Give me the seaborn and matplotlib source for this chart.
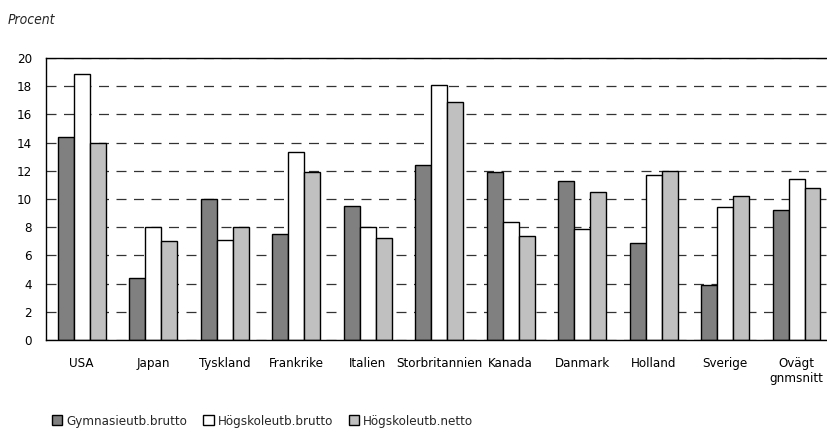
import matplotlib
matplotlib.use("Agg")
import matplotlib.pyplot as plt
import seaborn as sns
import pandas as pd

countries = ["USA", "Japan", "Tyskland", "Frankrike", "Italien", "Storbritannien",
             "Kanada", "Danmark", "Holland", "Sverige", "Ovägt\ngnmsnitt"]
series = ["Gymnasieutb.brutto", "Högskoleutb.brutto", "Högskoleutb.netto"]
gymn_brutto = [14.4, 4.4, 10.0, 7.5, 9.5, 12.4, 11.9, 11.3, 6.9, 3.9, 9.2]
hogsk_brutto = [18.9, 8.0, 7.1, 13.3, 8.0, 18.1, 8.4, 7.9, 11.7, 9.4, 11.4]
hogsk_netto = [14.0, 7.0, 8.0, 11.9, 7.2, 16.9, 7.4, 10.5, 12.0, 10.2, 10.8]
colors = ["#808080", "#ffffff", "#c0c0c0"]

rows = []
for s, vals in zip(series, [gymn_brutto, hogsk_brutto, hogsk_netto]):
    for c, v in zip(countries, vals):
        rows.append({"Land": c, "Serie": s, "Procent": v})
df = pd.DataFrame(rows)

sns.set_theme(style="white")
plt.rcParams["font.family"] = ["DejaVu Sans"]
plt.rcParams["font.stretch"] = "condensed"

fig = plt.figure(figsize=(8.28, 4.32), dpi=100)
ax = fig.add_axes([46 / 828, 92 / 432, 1 - 46 / 828, 282 / 432])

sns.barplot(data=df, x="Land", y="Procent", hue="Serie", hue_order=series,
            order=countries, palette=colors, width=0.67, edgecolor="black",
            linewidth=1.0, saturation=1, ax=ax, legend=True)

ax.set_ylim(0, 20)
ax.set_xlim(-0.5, 10.44)
ax.set_yticks(range(0, 21, 2))
ax.yaxis.grid(True, color="#333333", linestyle=(0, (8, 6)), linewidth=0.9)
ax.set_axisbelow(True)
ax.set_xlabel("")
ax.set_ylabel("")
for side in ["top", "left", "bottom"]:
    ax.spines[side].set_visible(True)
    ax.spines[side].set_color("black")
    ax.spines[side].set_linewidth(1.0)
ax.spines["right"].set_visible(False)
ax.tick_params(axis="both", length=0, labelsize=9.5, colors="black")
ax.tick_params(axis="x", pad=12)
ax.tick_params(axis="y", pad=10)
ax.get_xticklabels()[-1].set_horizontalalignment("center")

fig.text(8 / 828, 1 - 20 / 432, "Procent", fontsize=10, style="italic", va="center")

handles, labels = ax.get_legend_handles_labels()
ax.legend_.remove()
fig.legend(handles, labels, loc="lower left", bbox_to_anchor=(40 / 828, -0.018),
           ncol=3, frameon=False, fontsize=9.5, handlelength=0.8, handleheight=0.8,
           handletextpad=0.3, columnspacing=1.2)

fig.savefig("out.png", dpi=100)
